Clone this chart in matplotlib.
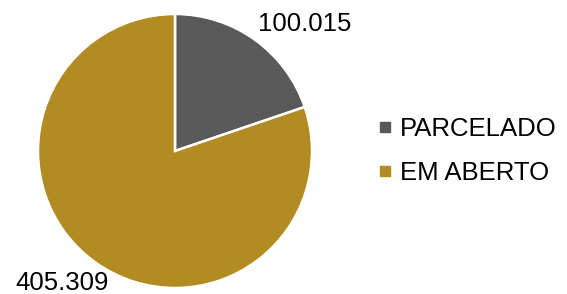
import matplotlib
matplotlib.use("Agg")
import matplotlib.pyplot as plt
from matplotlib.lines import Line2D

plt.rcParams['font.family'] = ['Liberation Sans', 'DejaVu Sans']

categories = ["PARCELADO", "EM ABERTO"]
values = [100015, 405309]
value_labels = ["100.015", "405.309"]
colors = ["#595959", "#B38B23"]

W, H = 567, 294
fig = plt.figure(figsize=(W / 100, H / 100), dpi=100)
ax = fig.add_axes([0, 0, 1, 1])

ax.pie(values, colors=colors, startangle=90, counterclock=False,
       center=(175, H - 151), radius=137,
       wedgeprops=dict(edgecolor='white', linewidth=1.8))
ax.set_xlim(0, W)
ax.set_ylim(0, H)
ax.set_aspect('equal')
ax.axis('off')

fs = 18.5
ax.text(305, H - 24, value_labels[0], ha='center', va='center', fontsize=fs, color='#000000')
ax.text(62, H - 283, value_labels[1], ha='center', va='center', fontsize=fs, color='#000000')

handles = [Line2D([], [], marker='s', linestyle='none', markersize=6.5,
                  markerfacecolor=c, markeredgecolor=c) for c in colors]
leg = ax.legend(handles, categories, loc='center left',
                bbox_to_anchor=(377 / W, 1 - 151 / H), frameon=False,
                fontsize=fs, handlelength=0.6, handletextpad=0.3,
                labelspacing=0.8, borderpad=0, borderaxespad=0)

fig.savefig("out.png", dpi=100)
